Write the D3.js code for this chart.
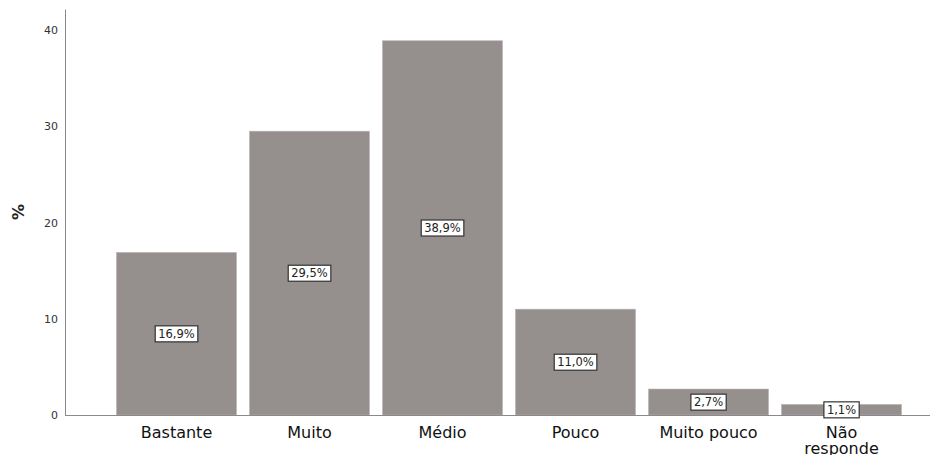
<!DOCTYPE html>
<html><head><meta charset="utf-8">
<script src="https://cdn.jsdelivr.net/npm/d3@7"></script>
<style>body{margin:0;background:#fff}svg{display:block}</style>
</head><body><svg id="c" width="941" height="455"></svg>
<script>
const categories = ["Bastante","Muito","Médio","Pouco","Muito pouco","Não responde"];
const values = [16.9, 29.5, 38.9, 11.0, 2.7, 1.1];
const labels = ["16,9%","29,5%","38,9%","11,0%","2,7%","1,1%"];
const yTicks = [0,10,20,30,40];

const svg = d3.select("#c");
const font = "DejaVu Sans, Verdana, sans-serif";
const x = d3.scaleBand().domain(categories).range([110, 908]).paddingInner(0.0977).paddingOuter(0.0488);
const y = d3.scaleLinear().domain([0, 42.2]).range([415, 9]);

// bars
svg.append("g").selectAll("rect").data(values).join("rect")
  .attr("x",(d,i)=>x(categories[i])).attr("width",x.bandwidth())
  .attr("y",d=>y(d)).attr("height",d=>y(0)-y(d))
  .attr("fill","#958f8e").attr("stroke","#b9b5b4").attr("stroke-width",0.6);

// y axis
const ya = svg.append("g").attr("transform","translate(65,0)")
  .call(d3.axisLeft(y).tickValues(yTicks).tickSize(0).tickPadding(7));
ya.select(".domain").attr("stroke","#8a8a8a").attr("stroke-width",1);
ya.selectAll("text").attr("font-family",font).attr("font-size",11).attr("fill","#333");

// x axis
const xa = svg.append("g").attr("transform","translate(0,415)")
  .call(d3.axisBottom(x).tickSize(0).tickPadding(12));
xa.select(".domain").attr("d","M65,0.5H930").attr("stroke","#8a8a8a").attr("stroke-width",1);
xa.selectAll("text").attr("font-family",font).attr("font-size",16).attr("fill","#111")
  .each(function(d){
    const t = d3.select(this);
    if (d === "Não responde") {
      t.text(null);
      t.append("tspan").attr("x",0).attr("dy","0.71em").text("Não");
      t.append("tspan").attr("x",0).attr("dy","0.95em").text("responde");
      t.attr("dy",null);
    }
  });

// y label
svg.append("text").attr("transform","translate(24,212) rotate(-90)")
  .attr("text-anchor","middle").attr("font-family",font).attr("font-size",16).attr("font-weight","bold")
  .attr("fill","#222").text("%");

// value labels
const lg = svg.append("g").selectAll("g").data(values).join("g")
  .attr("transform",(d,i)=>`translate(${x(categories[i])+x.bandwidth()/2},${y(d/2)})`);
lg.append("text").attr("text-anchor","middle").attr("dy","0.36em")
  .attr("font-family",font).attr("font-size",11.5).attr("fill","#222")
  .text((d,i)=>labels[i]);
lg.each(function(){
  const g = d3.select(this);
  const b = g.select("text").node().getBBox();
  g.insert("rect","text").attr("x",b.x-3).attr("y",b.y-1).attr("width",b.width+6).attr("height",b.height+2)
    .attr("fill","#fff").attr("stroke","#333").attr("stroke-width",1.2);
});
</script></body></html>
